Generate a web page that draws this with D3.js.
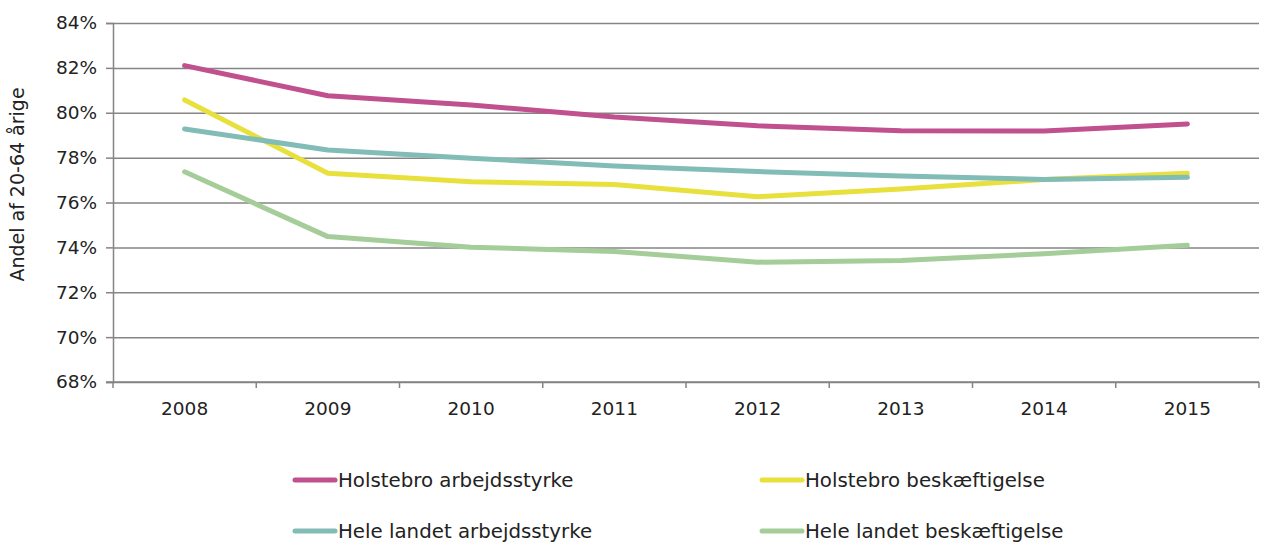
<!DOCTYPE html>
<html><head><meta charset="utf-8">
<script src="https://cdn.jsdelivr.net/npm/d3@7"></script>
<style>body{margin:0;background:#fff}svg{display:block}text{font-family:"DejaVu Sans",sans-serif;fill:#222}</style>
</head><body><svg id="c" width="1261" height="545"></svg>
<script>
const years = ["2008","2009","2010","2011","2012","2013","2014","2015"];
const seriesNames = ["Holstebro arbejdsstyrke","Holstebro beskæftigelse","Hele landet arbejdsstyrke","Hele landet beskæftigelse"];
const seriesColors = ["#c0508e","#e8e03c","#82bcb6","#a5cd9a"];
const holstebroArb = [82.1, 80.76, 80.35, 79.81, 79.42, 79.2, 79.19, 79.5];
const holstebroBesk = [80.57, 77.3, 76.93, 76.8, 76.26, 76.6, 77.02, 77.3];
const heleArb = [79.28, 78.34, 77.97, 77.63, 77.38, 77.18, 77.03, 77.12];
const heleBesk = [77.37, 74.48, 74.01, 73.82, 73.34, 73.41, 73.72, 74.1];
const yTicks = [68,70,72,74,76,78,80,82,84];
const yTitle = "Andel af 20-64 årige";

const allSeries = [holstebroArb, holstebroBesk, heleArb, heleBesk];
const svg = d3.select("#c");
const L = 113, R = 1259, T = 23, B = 382;
const x = d3.scaleBand().domain(years).range([L, R]);
const y = d3.scaleLinear().domain([68, 84]).range([B, T]);

// gridlines
svg.append("g").attr("transform", `translate(${L},0)`)
  .call(d3.axisLeft(y).tickValues(yTicks).tickSize(-(R - L)).tickFormat(""))
  .call(g => g.select(".domain").remove())
  .call(g => g.selectAll("line").attr("stroke", "#858585").attr("stroke-width", 1.5));
// y axis
const ya = svg.append("g").attr("transform", `translate(${L},0)`)
  .call(d3.axisLeft(y).tickValues(yTicks).tickSize(7).tickPadding(9).tickFormat(d => d + "%"));
ya.select(".domain").attr("stroke", "#858585").attr("stroke-width", 1.5);
ya.selectAll("line").attr("stroke", "#858585").attr("stroke-width", 1.5);
ya.selectAll("text").attr("font-size", 18.5).attr("fill", "#222").style("font-family", "DejaVu Sans");
// x axis
const xa = svg.append("g").attr("transform", `translate(0,${B})`)
  .call(d3.axisBottom(x).tickSize(0).tickPadding(20));
xa.select(".domain").attr("stroke", "#858585").attr("stroke-width", 1.5).attr("d", `M${L - 7},0H${R}`);
xa.selectAll("text").attr("font-size", 18.5).attr("fill", "#222").style("font-family", "DejaVu Sans");
const bounds = years.map(d => x(d)).concat([R]);
svg.append("g").selectAll("line").data(bounds).join("line")
  .attr("x1", d => d).attr("x2", d => d).attr("y1", B).attr("y2", B + 6)
  .attr("stroke", "#858585").attr("stroke-width", 1.5);

svg.append("text").attr("transform", `translate(24,${(T + B) / 2 - 18}) rotate(-90)`)
  .attr("text-anchor", "middle").attr("font-size", 19).text(yTitle);

const line = d3.line().x((d, i) => x(years[i]) + x.bandwidth() / 2).y(d => y(d));
svg.append("g").selectAll("path").data(allSeries).join("path")
  .attr("d", d => line(d)).attr("fill", "none")
  .attr("stroke", (d, i) => seriesColors[i]).attr("stroke-width", 5)
  .attr("stroke-linecap", "round").attr("stroke-linejoin", "round");

// legend
const lg = svg.append("g");
const legPos = [[295, 480], [762, 480], [295, 531], [762, 531]];
seriesNames.forEach((n, i) => {
  const [lx, ly] = legPos[i];
  lg.append("line").attr("x1", lx).attr("x2", lx + 40).attr("y1", ly).attr("y2", ly)
    .attr("stroke", seriesColors[i]).attr("stroke-width", 5).attr("stroke-linecap", "round");
  lg.append("text").attr("x", lx + 43).attr("y", ly).attr("dy", "0.35em")
    .attr("font-size", 19.8).text(n);
});
</script></body></html>
